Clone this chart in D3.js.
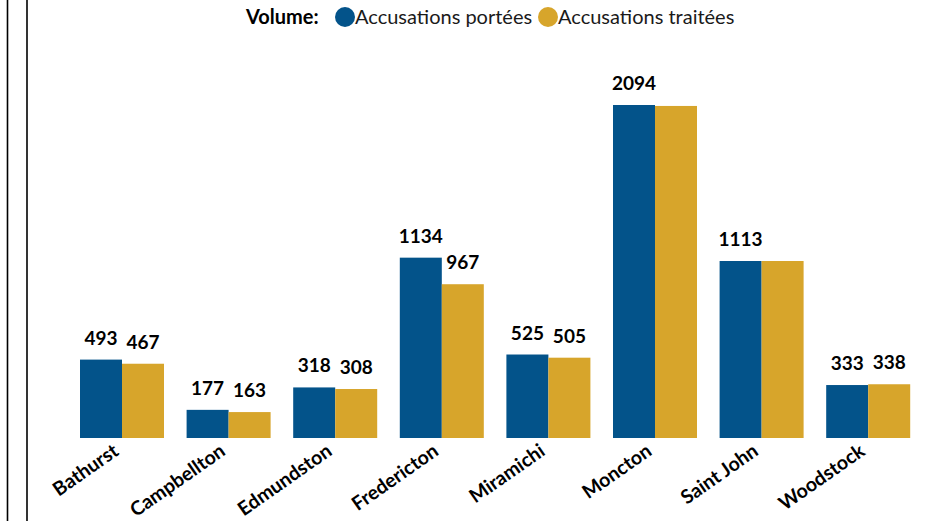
<!DOCTYPE html>
<html><head><meta charset="utf-8">
<script src="https://cdn.jsdelivr.net/npm/d3@7"></script>
<style>body{margin:0;background:#fff}svg{display:block}</style>
</head><body>
<svg id="c" width="928" height="521"></svg>
<script>
const categories = ["Bathurst","Campbellton","Edmundston","Fredericton","Miramichi","Moncton","Saint John","Woodstock"];
const seriesNames = ["Accusations portées","Accusations traitées"];
const portees = [493,177,318,1134,525,2094,1113,333];
const traitees = [467,163,308,967,505,2088,1113,338];
// whether the value label of "traitées" is printed (hidden where it collides in the original)
const traiteesLabelShown = [true,true,true,true,true,false,false,true];
const colors = ["#03538a","#d7a52b"];
const legendTitle = "Volume:";

const svg = d3.select("#c");
const font = "Lato, 'Open Sans', sans-serif";

svg.append("line").attr("x1",7.5).attr("x2",7.5).attr("y1",0).attr("y2",521).attr("stroke","#000").attr("stroke-width",1.6);
svg.append("line").attr("x1",27).attr("x2",27).attr("y1",0).attr("y2",521).attr("stroke","#000").attr("stroke-width",1.6);

const x = d3.scaleBand().domain(categories).range([68.7,921.5]).paddingInner(0.212).paddingOuter(0.106);
const xs = d3.scaleBand().domain([0,1]).range([0,x.bandwidth()]);
const y = d3.scaleLinear().domain([0,2094]).range([438,105]);

const series = [portees, traitees];
const shown = [categories.map(()=>true), traiteesLabelShown];
series.forEach((vals,si)=>{
  svg.append("g").selectAll("rect").data(categories).join("rect")
    .attr("x",c=>x(c)+xs(si)).attr("width",xs.bandwidth())
    .attr("y",(c,i)=>y(vals[i])).attr("height",(c,i)=>y(0)-y(vals[i]))
    .attr("fill",colors[si]);
  svg.append("g").selectAll("text").data(categories.filter((c,i)=>shown[si][i])).join("text")
    .attr("x",c=>x(c)+xs(si)+xs.bandwidth()/2)
    .attr("y",c=>y(vals[categories.indexOf(c)])-15)
    .attr("text-anchor","middle")
    .attr("font-family",font).attr("font-weight","bold").attr("font-size",19).attr("fill","#000")
    .text(c=>vals[categories.indexOf(c)]);
});

const xa = svg.append("g").attr("transform","translate(0,438)")
  .call(d3.axisBottom(x).tickSize(0).tickPadding(0));
xa.select(".domain").remove();
xa.selectAll("text").attr("font-family",font).attr("font-weight","bold").attr("font-size",19.5).attr("fill","#000")
  .attr("text-anchor","end").attr("dy",0)
  .attr("transform","translate(-2,16) rotate(-35)");

const lg = svg.append("g").attr("font-family",font).attr("font-size",20).attr("fill","#1a1a1a");
lg.append("text").attr("x",246).attr("y",24).attr("font-weight","bold").attr("fill","#000").text(legendTitle);
const lx = [345,548];
seriesNames.forEach((n,i)=>{
  lg.append("circle").attr("cx",lx[i]).attr("cy",17).attr("r",10).attr("fill",colors[i]);
  lg.append("text").attr("x",lx[i]+10).attr("y",24).text(n);
});
</script>
</body></html>
